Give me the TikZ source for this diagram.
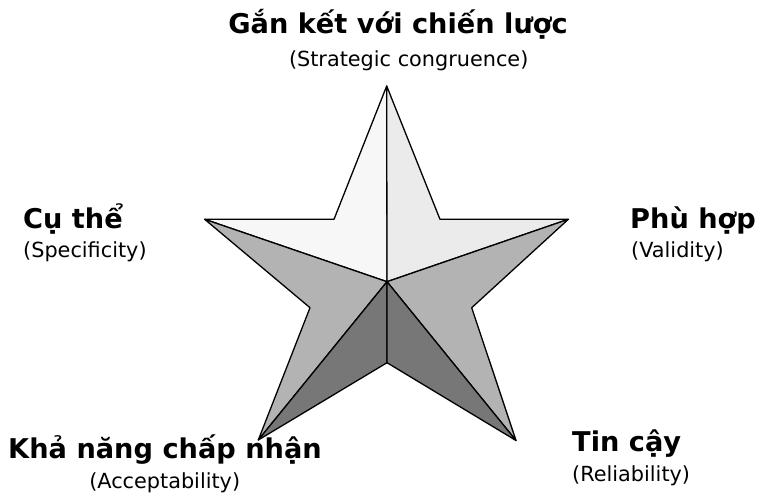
\documentclass[tikz,border=0pt]{standalone}
\usepackage{fontspec}
\setmainfont{DejaVu Sans}
\begin{document}
\begin{tikzpicture}[x=1pt,y=-1pt,
  face/.style={draw=black, line width=1.3pt, line join=round},
  head/.style={font=\fontsize{27.2}{30}\selectfont\bfseries, inner sep=0pt},
  sub/.style={font=\fontsize{20.8}{24}\selectfont, inner sep=0pt}]
\useasboundingbox (0,0) rectangle (761,499);
\definecolor{facelight}{HTML}{F7F7F7}
\definecolor{faceright}{HTML}{EBEBEB}
\definecolor{facemid}{HTML}{B3B3B3}
\definecolor{facedark}{HTML}{777777}
\coordinate (T) at (386.7,86);
\coordinate (L) at (204.7,219.3);
\coordinate (R) at (568.3,219.3);
\coordinate (IUL) at (334,219.3);
\coordinate (IUR) at (440,219.3);
\coordinate (C) at (387,281.7);
\coordinate (IL) at (310,307.7);
\coordinate (IR) at (471.7,307.7);
\coordinate (BL) at (258.3,440);
\coordinate (BR) at (516,440.5);
\coordinate (B) at (387,362.7);
\filldraw[face, fill=facelight] (T) -- (C) -- (L) -- (IUL) -- cycle;
\filldraw[face, fill=faceright] (T) -- (IUR) -- (R) -- (C) -- cycle;
\filldraw[face, fill=facemid] (L) -- (C) -- (BL) -- (IL) -- cycle;
\filldraw[face, fill=facemid] (R) -- (IR) -- (BR) -- (C) -- cycle;
\filldraw[face, fill=facedark] (C) -- (BL) -- (B) -- cycle;
\filldraw[face, fill=facedark] (C) -- (B) -- (BR) -- cycle;
\node[head, anchor=base] (h1) at (398,33) {Gắn kết với chiến lược};
\node[sub, anchor=base] (s1) at (408.7,66.5) {(Strategic congruence)};
\node[head, anchor=base west] (h2) at (23,228) {Cụ thể};
\node[sub, anchor=base west] (s2) at (23,257) {(Specificity)};
\node[head, anchor=base west] (h3) at (630,228) {Phù hợp};
\node[sub, anchor=base west] (s3) at (631,257) {(Validity)};
\node[head, anchor=base] (h4) at (165,458) {Khả năng chấp nhận};
\node[sub, anchor=base] (s4) at (164.7,488) {(Acceptability)};
\node[head, anchor=base west] (h5) at (572,451) {Tin cậy};
\node[sub, anchor=base west] (s5) at (572,481.5) {(Reliability)};
\end{tikzpicture}
\end{document}
